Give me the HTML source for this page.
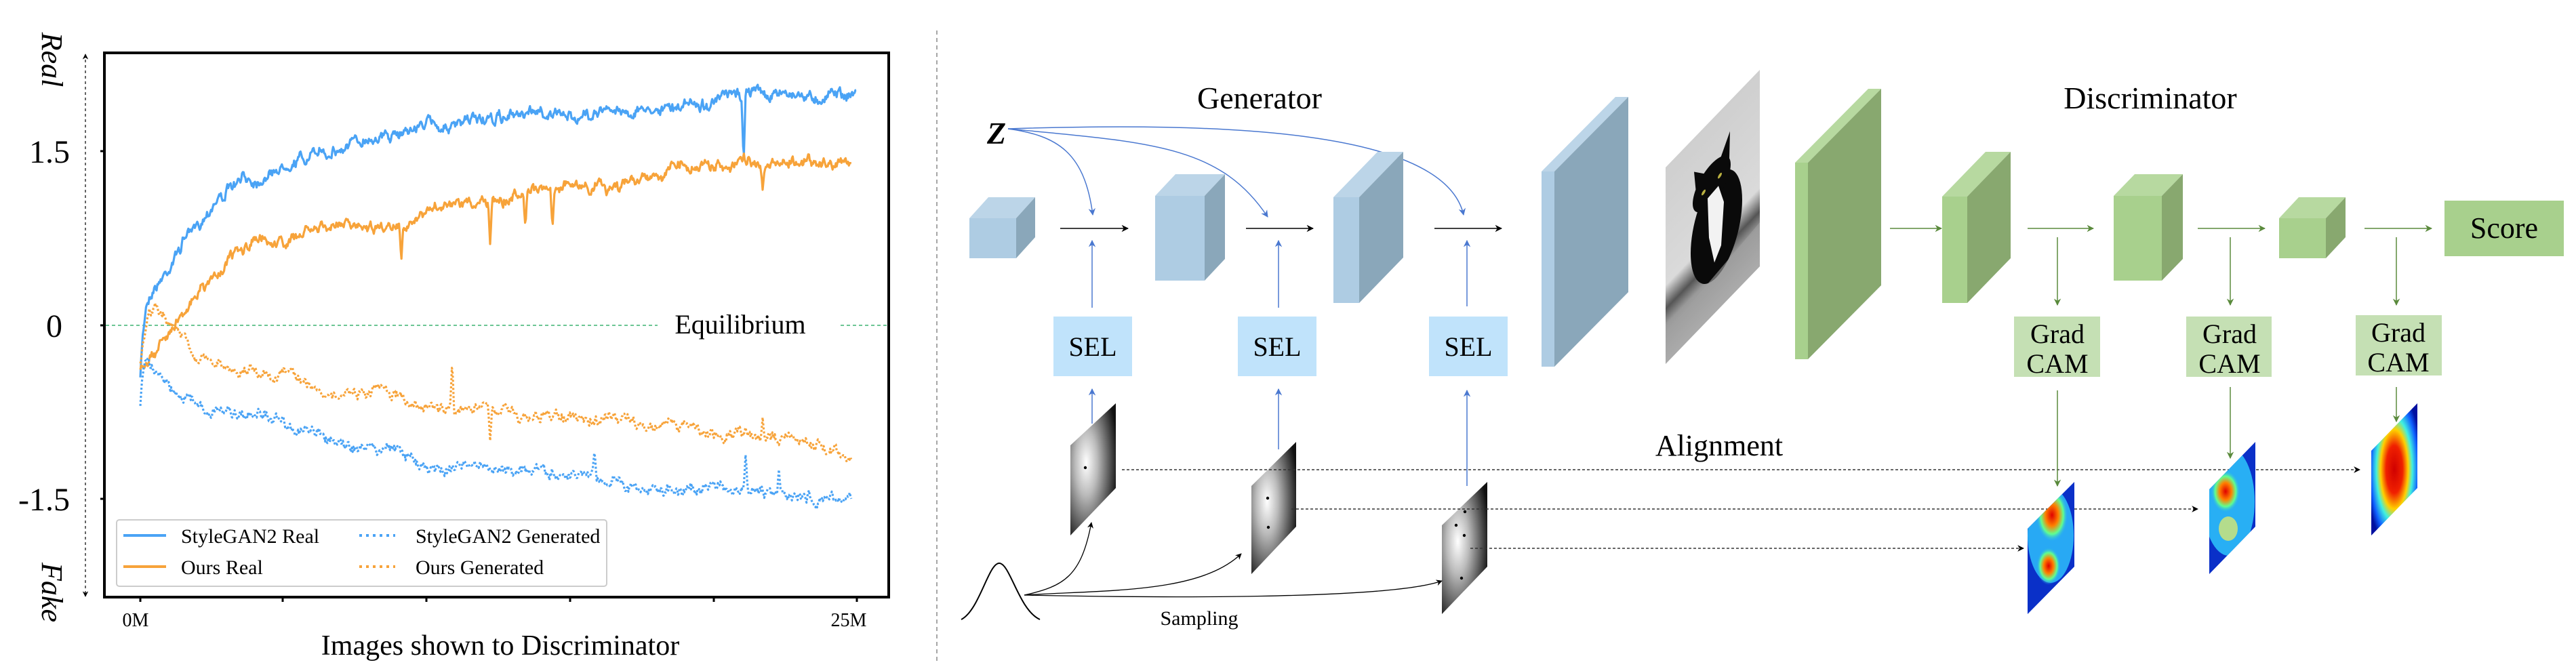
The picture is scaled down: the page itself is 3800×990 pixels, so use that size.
<!DOCTYPE html>
<html><head><meta charset="utf-8">
<style>
html,body{margin:0;padding:0;background:#fff;}
svg{display:block;}
svg text{font-family:"Liberation Serif","Times New Roman",serif;fill:#000;}
</style></head>
<body>
<svg id="s" width="3800" height="990" viewBox="0 0 3800 990" xmlns="http://www.w3.org/2000/svg" font-family="Liberation Serif, serif">
<defs>
<marker id="ab" viewBox="0 0 10 10" refX="9" refY="5" markerWidth="7" markerHeight="7" orient="auto-start-reverse"><path d="M0,0 L10,5 L0,10 L3,5 z" fill="#000"/></marker>
<marker id="abl" viewBox="0 0 10 10" refX="9" refY="5" markerWidth="7" markerHeight="7" orient="auto"><path d="M0,0 L10,5 L0,10 L3,5 z" fill="#4a78d0"/></marker>
<marker id="agr" viewBox="0 0 10 10" refX="9" refY="5" markerWidth="7" markerHeight="7" orient="auto"><path d="M0,0 L10,5 L0,10 L3,5 z" fill="#5a8a3c"/></marker>
<radialGradient id="gm" cx="0.35" cy="0.45" r="0.7"><stop offset="0" stop-color="#fff"/><stop offset="0.35" stop-color="#bbb"/><stop offset="1" stop-color="#111"/></radialGradient>
<radialGradient id="h1a" cx="0.5" cy="0.5" r="0.5"><stop offset="0" stop-color="#e00000"/><stop offset="0.4" stop-color="#ff8000"/><stop offset="0.7" stop-color="#60ff90"/><stop offset="1" stop-color="#20a0ff" stop-opacity="0"/></radialGradient>
<radialGradient id="h3" cx="0.5" cy="0.5" r="0.6"><stop offset="0" stop-color="#d00000"/><stop offset="0.3" stop-color="#f02000"/><stop offset="0.5" stop-color="#ffd000"/><stop offset="0.65" stop-color="#40f0e0"/><stop offset="0.85" stop-color="#1060ff"/><stop offset="1" stop-color="#0010a0"/></radialGradient>
<linearGradient id="catbg" x1="0" y1="0" x2="0" y2="1"><stop offset="0" stop-color="#cfcfcf"/><stop offset="0.6" stop-color="#dadada"/><stop offset="0.72" stop-color="#555"/><stop offset="0.8" stop-color="#999"/><stop offset="1" stop-color="#bbb"/></linearGradient>
</defs>

<!-- ============ LEFT PLOT ============ -->
<rect x="154" y="78" width="1157" height="803" fill="none" stroke="#000" stroke-width="4"/>
<line x1="126" y1="80" x2="126" y2="880" stroke="#000" stroke-width="1.2" stroke-dasharray="4 4" marker-start="url(#ab)" marker-end="url(#ab)"/>
<g stroke="#000" stroke-width="3">
<line x1="148" y1="223" x2="154" y2="223"/><line x1="148" y1="480" x2="154" y2="480"/><line x1="148" y1="736" x2="154" y2="736"/>
<line x1="207" y1="881" x2="207" y2="888"/><line x1="417" y1="881" x2="417" y2="888"/><line x1="629" y1="881" x2="629" y2="888"/><line x1="841" y1="881" x2="841" y2="888"/><line x1="1053" y1="881" x2="1053" y2="888"/><line x1="1264" y1="881" x2="1264" y2="888"/>
</g>
<text x="103" y="240" font-size="48" text-anchor="end">1.5</text>
<text x="80" y="497" font-size="48" text-anchor="middle">0</text>
<text x="103" y="753" font-size="48" text-anchor="end">-1.5</text>
<text x="200" y="924" font-size="28" text-anchor="middle">0M</text>
<text x="1252" y="924" font-size="28" text-anchor="middle">25M</text>
<text x="738" y="966" font-size="42" text-anchor="middle">Images shown to Discriminator</text>
<text transform="translate(62,88) rotate(90)" font-size="44" font-style="italic" text-anchor="middle">Real</text>
<text transform="translate(62,874) rotate(90)" font-size="44" font-style="italic" text-anchor="middle">Fake</text>
<line x1="156" y1="480" x2="970" y2="480" stroke="#3cb371" stroke-width="1.5" stroke-dasharray="5 4"/>
<line x1="1240" y1="480" x2="1309" y2="480" stroke="#3cb371" stroke-width="1.5" stroke-dasharray="5 4"/>
<text x="1092" y="492" font-size="40" text-anchor="middle">Equilibrium</text>
<g id="curves"></g>
<rect x="172" y="767" width="723" height="98" rx="4" fill="#fff" fill-opacity="0.85" stroke="#ccc" stroke-width="2"/>
<line x1="182" y1="790" x2="245" y2="790" stroke="#4aa3f5" stroke-width="4"/>
<line x1="182" y1="836" x2="245" y2="836" stroke="#f7a33a" stroke-width="4"/>
<line x1="530" y1="790" x2="583" y2="790" stroke="#4aa3f5" stroke-width="4" stroke-dasharray="4 6"/>
<line x1="530" y1="836" x2="583" y2="836" stroke="#f7a33a" stroke-width="4" stroke-dasharray="4 6"/>
<text x="267" y="801" font-size="30">StyleGAN2 Real</text>
<text x="267" y="847" font-size="30">Ours Real</text>
<text x="613" y="801" font-size="30">StyleGAN2 Generated</text>
<text x="613" y="847" font-size="30">Ours Generated</text>

<line x1="1382" y1="45" x2="1382" y2="975" stroke="#888" stroke-width="1.5" stroke-dasharray="6 5"/>

<!-- ============ GENERATOR ============ -->
<text x="1858" y="160" font-size="46" text-anchor="middle">Generator</text>
<text x="1470" y="212" font-size="46" font-style="italic" font-weight="bold" text-anchor="middle">Z</text>
<g fill="none" stroke="#4a78d0" stroke-width="1.5">
<path d="M1487,190 C1560,200 1600,225 1612,317" marker-end="url(#abl)"/>
<path d="M1487,190 C1700,210 1800,215 1870,320" marker-end="url(#abl)"/>
<path d="M1487,190 C1800,180 2130,190 2159,317" marker-end="url(#abl)"/>
<line x1="1611" y1="454" x2="1611" y2="355" marker-end="url(#abl)"/>
<line x1="1886" y1="454" x2="1886" y2="355" marker-end="url(#abl)"/>
<line x1="2164" y1="452" x2="2164" y2="355" marker-end="url(#abl)"/>
<line x1="1611" y1="625" x2="1611" y2="574" marker-end="url(#abl)"/>
<line x1="1886" y1="663" x2="1886" y2="574" marker-end="url(#abl)"/>
<line x1="2164" y1="717" x2="2164" y2="576" marker-end="url(#abl)"/>
</g>
<g stroke="#000" stroke-width="1.5">
<line x1="1564" y1="337" x2="1664" y2="337" marker-end="url(#ab)"/>
<line x1="1838" y1="337" x2="1937" y2="337" marker-end="url(#ab)"/>
<line x1="2116" y1="337" x2="2215" y2="337" marker-end="url(#ab)"/>
</g>
<g id="cubes"></g>
<g fill="#c0e3fb">
<rect x="1554" y="467" width="116" height="88"/><rect x="1826" y="467" width="116" height="88"/><rect x="2108" y="467" width="116" height="88"/>
</g>
<g font-size="40" text-anchor="middle">
<text x="1612" y="525">SEL</text><text x="1884" y="525">SEL</text><text x="2166" y="525">SEL</text>
</g>

<!-- cat image -->
<g transform="matrix(1,-1.036,0,1,2457,247)">
<rect x="0" y="0" width="139" height="290" fill="url(#catbg)"/>
<ellipse cx="75" cy="165" rx="38" ry="75" fill="#0a0a0a"/>
<ellipse cx="68" cy="95" rx="28" ry="30" fill="#0a0a0a"/>
<path d="M45,85 L42,50 L60,72 z" fill="#0a0a0a"/>
<path d="M80,72 L95,45 L94,85 z" fill="#0a0a0a"/>
<path d="M62,110 L78,108 L86,140 L82,200 L72,215 L64,170 z" fill="#f2f2f2"/>
<ellipse cx="56" cy="95" rx="3" ry="3" fill="#b9b040"/><ellipse cx="80" cy="95" rx="3" ry="3" fill="#b9b040"/>
<path d="M0,245 L139,225 L139,290 L0,290 z" fill="#a0a0a0" opacity="0.6"/>
</g>

<!-- grayscale maps -->
<g>
<path d="M1579,657 L1646,595 L1646,720 L1579,790 z" fill="url(#gm)"/>
<path d="M1846,717 L1912,652 L1912,777 L1846,847 z" fill="url(#gm)"/>
<path d="M2127,775 L2194,711 L2194,836 L2127,906 z" fill="url(#gm)"/>
<g fill="#000"><circle cx="1601" cy="690" r="2.2"/><circle cx="1870" cy="735" r="2.2"/><circle cx="1871" cy="778" r="2.2"/>
<circle cx="2161" cy="755" r="2.2"/><circle cx="2148" cy="775" r="2.2"/><circle cx="2160" cy="790" r="2.2"/><circle cx="2156" cy="853" r="2.2"/></g>
</g>

<!-- alignment -->
<text x="2536" y="672" font-size="44" text-anchor="middle">Alignment</text>
<g stroke="#333" stroke-width="1.4" stroke-dasharray="4 3" fill="none">
<line x1="1655" y1="693" x2="3481" y2="693" marker-end="url(#ab)"/>
<line x1="1905" y1="751" x2="3242" y2="751" marker-end="url(#ab)"/>
<line x1="2169" y1="809" x2="2985" y2="809" marker-end="url(#ab)"/>
</g>

<!-- gaussian & sampling -->
<path d="M1418,914 C1445,900 1458,831 1474,831 C1490,831 1503,900 1534,914" fill="none" stroke="#000" stroke-width="2"/>
<g fill="none" stroke="#000" stroke-width="1.3">
<path d="M1511,878 C1570,865 1595,850 1610,771" marker-end="url(#ab)"/>
<path d="M1511,878 C1640,870 1770,875 1831,817" marker-end="url(#ab)"/>
<path d="M1511,878 C1700,882 2050,885 2127,857" marker-end="url(#ab)"/>
</g>
<text x="1769" y="922" font-size="30" text-anchor="middle">Sampling</text>

<!-- ============ DISCRIMINATOR ============ -->
<text x="3172" y="160" font-size="46" text-anchor="middle">Discriminator</text>
<g stroke="#5a8a3c" stroke-width="1.5">
<line x1="2788" y1="337" x2="2864" y2="337" marker-end="url(#agr)"/>
<line x1="2991" y1="337" x2="3088" y2="337" marker-end="url(#agr)"/>
<line x1="3242" y1="337" x2="3341" y2="337" marker-end="url(#agr)"/>
<line x1="3488" y1="337" x2="3587" y2="337" marker-end="url(#agr)"/>
<line x1="3035" y1="350" x2="3035" y2="450" marker-end="url(#agr)"/>
<line x1="3290" y1="350" x2="3290" y2="450" marker-end="url(#agr)"/>
<line x1="3535" y1="350" x2="3535" y2="450" marker-end="url(#agr)"/>
<line x1="3035" y1="576" x2="3035" y2="717" marker-end="url(#agr)"/>
<line x1="3290" y1="571" x2="3290" y2="676" marker-end="url(#agr)"/>
<line x1="3535" y1="571" x2="3535" y2="622" marker-end="url(#agr)"/>
</g>
<rect x="3606" y="296" width="176" height="82" fill="#a8d08d"/>
<text x="3694" y="351" font-size="44" text-anchor="middle">Score</text>
<g fill="#c5e0b4">
<rect x="2971" y="467" width="127" height="89"/><rect x="3225" y="467" width="126" height="89"/><rect x="3475" y="465" width="127" height="89"/>
</g>
<g font-size="40" text-anchor="middle">
<text x="3035" y="506">Grad</text><text x="3035" y="550">CAM</text>
<text x="3289" y="506">Grad</text><text x="3289" y="550">CAM</text>
<text x="3538" y="504">Grad</text><text x="3538" y="548">CAM</text>
</g>

<!-- heatmaps -->
<defs>
<clipPath id="c1"><path d="M2991,780 L3060,711 L3060,836 L2991,906 z"/></clipPath>
<clipPath id="c2"><path d="M3259,722 L3327,652 L3327,777 L3259,847 z"/></clipPath>
</defs>
<g clip-path="url(#c1)">
<rect x="2985" y="705" width="80" height="205" fill="#0a30c8"/>
<ellipse cx="3025" cy="790" rx="34" ry="70" fill="#30c8ff" opacity="0.8"/>
<ellipse cx="3027" cy="760" rx="24" ry="40" fill="url(#h1a)"/>
<ellipse cx="3022" cy="835" rx="18" ry="28" fill="url(#h1a)"/>
</g>
<g clip-path="url(#c2)">
<rect x="3255" y="645" width="80" height="205" fill="#0a30c8"/>
<ellipse cx="3288" cy="740" rx="38" ry="80" fill="#30d0ff" opacity="0.8"/>
<ellipse cx="3283" cy="725" rx="22" ry="32" fill="url(#h1a)"/>
<ellipse cx="3287" cy="780" rx="14" ry="18" fill="#f0f060" opacity="0.7"/>
</g>
<path d="M3498,665 L3566,595 L3566,720 L3498,790 z" fill="url(#h3)"/>

</svg>
<script>
(function(){
var NS="http://www.w3.org/2000/svg";
function el(t,a,p){var e=document.createElementNS(NS,t);for(var k in a)e.setAttribute(k,a[k]);(p||document.getElementById('s')).appendChild(e);return e;}
function cube(g,x,y,w,h,dx,dy,cf,ct,cs){
 el('path',{d:'M'+x+','+y+' L'+(x+dx)+','+(y+dy)+' L'+(x+w+dx)+','+(y+dy)+' L'+(x+w)+','+y+' z',fill:ct},g);
 el('path',{d:'M'+(x+w)+','+y+' L'+(x+w+dx)+','+(y+dy)+' L'+(x+w+dx)+','+(y+h+dy)+' L'+(x+w)+','+(y+h)+' z',fill:cs},g);
 el('rect',{x:x,y:y,width:w,height:h,fill:cf},g);
}
var g=document.getElementById('cubes');
var B=['#aecce3','#bcd5e8','#8aa7ba'],G=['#a8d08d','#b7d9a0','#88a86f'];
cube(g,1430,322,69,59,28,-31,B[0],B[1],B[2]);
cube(g,1704,289,73,125,30,-32,B[0],B[1],B[2]);
cube(g,1967,291,38,156,65,-67,B[0],B[1],B[2]);
cube(g,2274,253,19,288,109,-110,B[0],B[1],B[2]);
cube(g,2648,240,19,290,108,-109,G[0],G[1],G[2]);
cube(g,2865,290,37,157,64,-66,G[0],G[1],G[2]);
cube(g,3118,289,71,125,31,-32,G[0],G[1],G[2]);
cube(g,3362,322,69,59,29,-31,G[0],G[1],G[2]);
var seed=7;function rnd(){seed=(seed*16807)%2147483647;return seed/2147483647;}
function interp(a,x){for(var i=0;i<a.length-1;i++){if(x>=a[i][0]&&x<=a[i+1][0]){var t=(x-a[i][0])/(a[i+1][0]-a[i][0]);return a[i][1]+t*(a[i+1][1]-a[i][1]);}}return a[a.length-1][1];}
function curve(anch,spikes,amp,col,dash){
 var pts=[],x0=anch[0][0],x1=anch[anch.length-1][0],w=0,lf=0;
 for(var x=x0;x<=x1;x+=1.2){w=w*0.6+(rnd()-0.5)*amp;lf=lf*0.97+(rnd()-0.5)*amp*0.5;var y=interp(anch,x)+w+lf;
  for(var j=0;j<spikes.length;j++){var s=spikes[j];var d=Math.abs(x-s[0]);if(d<3)y=y+(s[1]-y)*(1-d/3);}
  pts.push(x.toFixed(1)+','+y.toFixed(1));}
 var a={points:pts.join(' '),fill:'none',stroke:col,'stroke-width':3.2,'stroke-linejoin':'round'};
 if(dash)a['stroke-dasharray']='3 3';
 el('polyline',a,document.getElementById('curves'));
}
curve([[207,560],[210,500],[215,450],[225,425],[233,419],[250,400],[270,360],[290,330],[314,298],[360,265],[400,255],[449,241],[520,215],[580,200],[628,187],[700,180],[780,172],[898,162],[1000,155],[1080,140],[1100,138],[1264,128]],[[1097,240]],11,'#4aa3f5',false);
curve([[207,545],[215,535],[225,525],[240,505],[260,470],[290,430],[332,387],[390,365],[449,349],[530,330],[628,311],[720,298],[808,289],[900,275],[987,260],[1100,245],[1257,232]],[[592,385],[723,360],[775,335],[815,338],[1125,280]],11,'#f7a33a',false);
curve([[207,540],[212,500],[220,470],[229,457],[250,480],[296,527],[350,548],[449,565],[540,578],[628,590],[720,600],[808,609],[900,620],[987,631],[1100,645],[1257,663]],[[667,533],[723,650],[1125,616]],11,'#f7a33a',true);
curve([[207,595],[212,540],[220,530],[233,545],[260,570],[314,603],[380,625],[449,638],[540,660],[628,682],[720,693],[808,701],[900,710],[987,717],[1100,725],[1257,739]],[[877,665],[1100,668],[1149,693]],11,'#4aa3f5',true);
})();
</script>
</body></html>
